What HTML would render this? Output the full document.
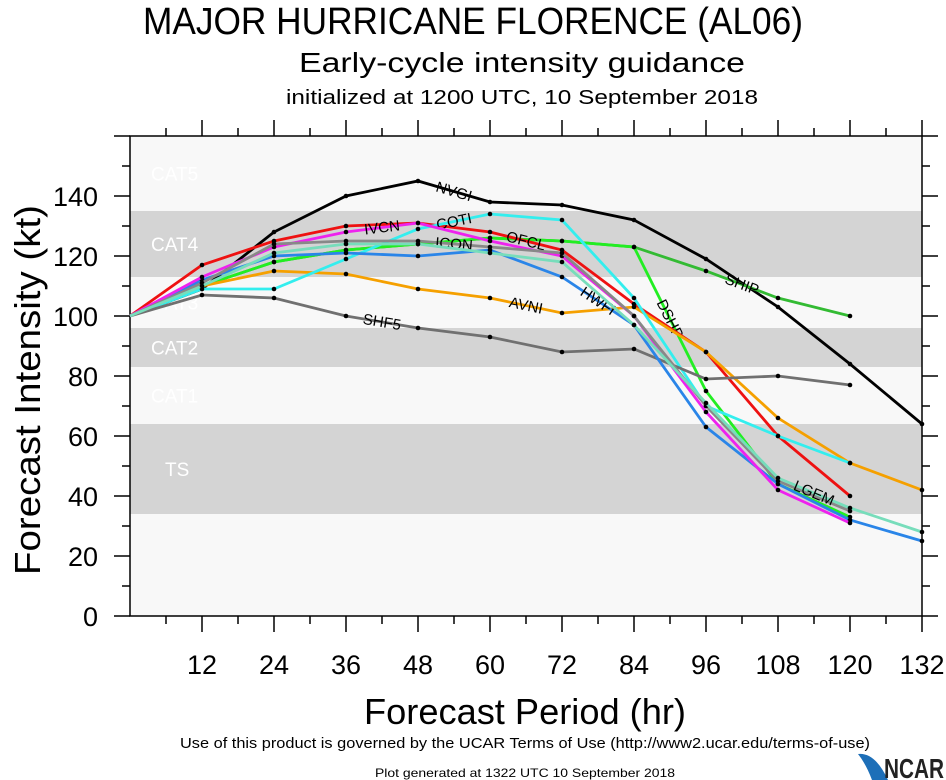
<!DOCTYPE html>
<html><head><meta charset="utf-8"><style>
body{margin:0;background:#fff;}
svg{display:block;font-family:"Liberation Sans Narrow","Liberation Sans",sans-serif;}
.reg{font-family:"Liberation Sans",sans-serif;}
</style></head><body>
<svg id="chart" width="946" height="780" viewBox="0 0 946 780">
<text class="reg" x="473" y="34" text-anchor="middle" font-size="38" textLength="660" lengthAdjust="spacingAndGlyphs">MAJOR HURRICANE FLORENCE (AL06)</text>
<text class="reg" x="522" y="72" text-anchor="middle" font-size="28" textLength="446" lengthAdjust="spacingAndGlyphs">Early-cycle intensity guidance</text>
<text class="reg" x="522" y="104" text-anchor="middle" font-size="20" textLength="472" lengthAdjust="spacingAndGlyphs">initialized at 1200 UTC, 10 September 2018</text>
<g id="bands"></g>
<g id="axes"></g>
<g id="series"></g>
<text class="reg" transform="translate(40,390) rotate(-90)" text-anchor="middle" font-size="36" textLength="370" lengthAdjust="spacingAndGlyphs">Forecast Intensity (kt)</text>
<text class="reg" x="525" y="724" text-anchor="middle" font-size="36" textLength="322" lengthAdjust="spacingAndGlyphs">Forecast Period (hr)</text>
<text x="525" y="748" text-anchor="middle" font-size="15" textLength="690" lengthAdjust="spacingAndGlyphs">Use of this product is governed by the UCAR Terms of Use (http://www2.ucar.edu/terms-of-use)</text>
<text x="525" y="777" text-anchor="middle" font-size="12" textLength="300" lengthAdjust="spacingAndGlyphs">Plot generated at 1322 UTC   10 September 2018</text>
<g>
<path d="M858 754 Q875 752 888 780 L872 780 Q866 764 858 754 Z" fill="#1d6fb8"/>
<text x="884" y="778" font-size="28" font-weight="bold" fill="#222" textLength="60" lengthAdjust="spacingAndGlyphs">NCAR</text>
</g>
</svg>
<script>
const hours=[0,12,24,36,48,60,72,84,96,108,120,132];
const yTicks=[0,20,40,60,80,100,120,140];
const xTicks=[12,24,36,48,60,72,84,96,108,120,132];
const bandNames=["CAT5","CAT4","CAT3","CAT2","CAT1","TS"];
const bandLow=[135,113,96,83,64,34];
const bandHigh=[160,135,113,96,83,64];
const seriesNames=["NVGI","SHIP","DSHP","OFCL","AVNI","COTI","SHF5","HWFI","IVCN","ICON","LGEM"];
const seriesColors=["#000000","#33bb33","#22ee22","#ee1111","#f5a000","#33eeee","#707070","#2a85e8","#ee22ee","#888888","#77ddbb"];
const NVGI=[100,109,128,140,145,138,137,132,119,103,84,64];
const SHIP=[100,110,118,122,124,126,125,123,115,106,100,null];
const DSHP=[100,110,118,122,124,126,125,123,75,44,33,null];
const OFCL=[100,117,125,130,131,128,122,104,88,60,40,null];
const AVNI=[100,110,115,114,109,106,101,103,88,66,51,42];
const COTI=[100,109,109,119,129,134,132,106,70,60,51,null];
const SHF5=[100,107,106,100,96,93,88,89,79,80,77,null];
const HWFI=[100,112,120,121,120,122,113,97,63,44,32,25];
const IVCN=[100,113,123,128,131,125,120,100,68,42,31,null];
const ICON=[100,111,124,125,125,123,121,100,70,45,35,null];
const LGEM=[100,110,121,124,124,121,118,97,71,46,36,28];
const allSeries=[NVGI,SHIP,DSHP,OFCL,AVNI,COTI,SHF5,HWFI,IVCN,ICON,LGEM];
const labelIdx=[4,8,7,5,5,4,3,6,3,4,9];

const NS="http://www.w3.org/2000/svg";
const X0=130,X1=922,Y0=616,YT=136;
const xs=h=>X0+(h/132)*(X1-X0);
const ys=v=>Y0-(v/160)*(Y0-YT);
function mk(tag,attrs,parent){const e=document.createElementNS(NS,tag);for(const k in attrs)e.setAttribute(k,attrs[k]);parent.appendChild(e);return e;}

const bands=document.getElementById('bands');
const bg=mk('rect',{x:X0,y:YT,width:X1-X0,height:Y0-YT,fill:'#f8f8f8'},bands);


bandNames.forEach((n,i)=>{
  if(i%2===1){
    const r=mk('rect',{x:X0,y:ys(bandHigh[i]),width:X1-X0,height:ys(bandLow[i])-ys(bandHigh[i]),fill:'#d4d4d4'},bands);
    
    
  }
  const cy=(ys(bandHigh[i])+ys(bandLow[i]))/2;
  const t=mk('text',{x:n==='TS'?165:151,y:cy+7,fill:'#fff','font-size':19,'class':'reg'},bands);
  t.textContent=n;
  
  
});

const axes=document.getElementById('axes');
const frame=mk('rect',{x:X0,y:YT,width:X1-X0,height:Y0-YT,fill:'none',stroke:'#000','stroke-width':1.5},axes);


for(let v=0;v<=160;v+=10){
  const major=v%20===0,len=major?16:8,y=ys(v);
  mk('line',{x1:X0-len,y1:y,x2:X0,y2:y,stroke:'#000','stroke-width':1.5},axes);
  mk('line',{x1:X1,y1:y,x2:X1+len,y2:y,stroke:'#000','stroke-width':1.5},axes);
}
yTicks.forEach(v=>{
  const t=mk('text',{x:98,y:ys(v)+10,'text-anchor':'end','font-size':27},axes);
  t.textContent=v;
  
  
});
for(let h=6;h<=132;h+=6){
  const major=h%12===0,len=major?16:8,x=xs(h);
  mk('line',{x1:x,y1:Y0,x2:x,y2:Y0+len,stroke:'#000','stroke-width':1.5},axes);
  mk('line',{x1:x,y1:YT-len,x2:x,y2:YT,stroke:'#000','stroke-width':1.5},axes);
}
xTicks.forEach(h=>{
  const t=mk('text',{x:xs(h),y:674,'text-anchor':'middle','font-size':27},axes);
  t.textContent=h;
  
  
});

const sg=document.getElementById('series');
allSeries.forEach((vals,si)=>{
  const g=mk('g',{},sg);
  
  
  const pts=[];
  vals.forEach((v,i)=>{if(v!==null)pts.push([xs(hours[i]),ys(v)]);});
  const line=mk('polyline',{points:pts.map(p=>p.join(',')).join(' '),fill:'none',stroke:seriesColors[si],'stroke-width':2.8},g);
  
  
  pts.forEach((p,i)=>{if(i>0){
    const d=mk('circle',{cx:p[0],cy:p[1],r:2.3,fill:'#000'},g);
    
    
  }});
  const li=Math.min(labelIdx[si],pts.length-2);
  const a=pts[li],b=pts[li+1];
  const mx=(a[0]+b[0])/2,my=(a[1]+b[1])/2;
  const ang=Math.atan2(b[1]-a[1],b[0]-a[0])*180/Math.PI;
  const t=mk('text',{x:mx,y:my+5,'text-anchor':'middle','font-size':15,'class':'reg',transform:'rotate('+ang+' '+mx+' '+my+')'},g);
  t.textContent=seriesNames[si];
  
  
});
</script>
</body></html>
